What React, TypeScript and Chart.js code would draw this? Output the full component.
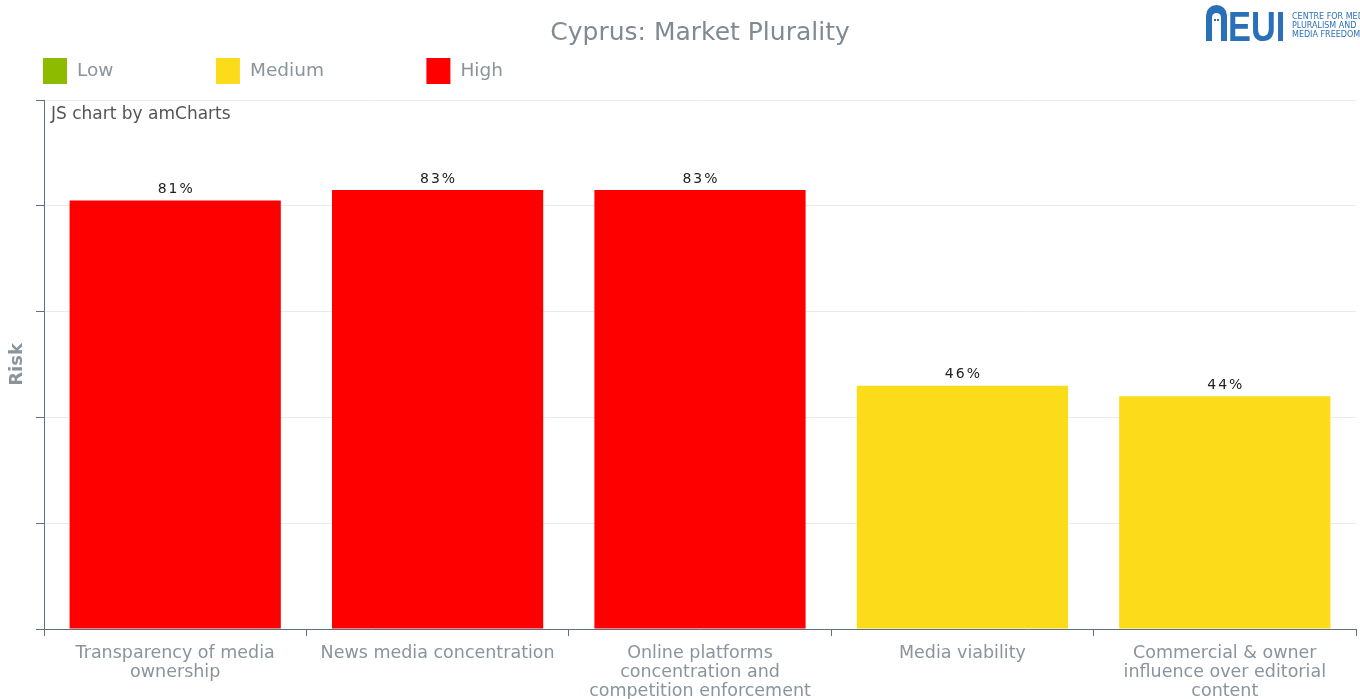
import React, { useEffect, useRef } from 'react';
import { Chart, registerables } from 'chart.js';

Chart.register(...registerables);

const chartTitle = 'Cyprus: Market Plurality';
const categories: string[][] = [
  ['Transparency of media', 'ownership'],
  ['News media concentration'],
  ['Online platforms', 'concentration and', 'competition enforcement'],
  ['Media viability'],
  ['Commercial & owner', 'influence over editorial', 'content'],
];
const riskValues = [81, 83, 83, 46, 44];
const riskLevels = ['Low', 'Medium', 'High'];
const riskColors = ['#8cbb00', '#fcdb1b', '#ff0000'];
const riskUpperBounds = [33, 66, 100];
const yMin = 0;
const yMax = 100;
const yStep = 20;
const axisTitle = 'Risk';
const watermark = 'JS chart by amCharts';
const logoText = 'EUI';
const logoSubText = ['CENTRE FOR MEDIA', 'PLURALISM AND', 'MEDIA FREEDOM'];

const FONT = '"DejaVu Sans", Verdana, sans-serif';
const AXIS_COLOR = '#5c7080';
const TEXT_GRAY = '#8a949c';

const colorFor = (v: number) => {
  const i = riskUpperBounds.findIndex((b) => v <= b);
  return riskColors[i < 0 ? riskColors.length - 1 : i];
};

const overlayPlugin = {
  id: 'overlay',
  afterDatasetsDraw(chart: any) {
    const ctx = chart.ctx as CanvasRenderingContext2D;
    const meta = chart.getDatasetMeta(0);
    ctx.save();
    ctx.font = `14px ${FONT}`;
    (ctx as any).letterSpacing = '2px';
    ctx.fillStyle = '#222';
    ctx.textAlign = 'center';
    ctx.textBaseline = 'bottom';
    meta.data.forEach((bar: any, i: number) => {
      ctx.fillText(`${riskValues[i]}%`, bar.x + 1, bar.y - 4);
    });
    ctx.restore();
  },
  afterDraw(chart: any) {
    const ctx = chart.ctx as CanvasRenderingContext2D;
    const area = chart.chartArea;
    ctx.save();
    // Title
    ctx.font = `25px ${FONT}`;
    ctx.fillStyle = '#7f8a93';
    ctx.textAlign = 'center';
    ctx.textBaseline = 'middle';
    ctx.fillText(chartTitle, (area.left + area.right) / 2, 33);

    // Legend
    ctx.font = `18.5px ${FONT}`;
    ctx.textAlign = 'left';
    let x = area.left - 1;
    const boxW = 24;
    const boxH = 26;
    const ly = 58;
    riskLevels.forEach((lvl, i) => {
      ctx.fillStyle = riskColors[i];
      ctx.fillRect(x, ly, boxW, boxH);
      ctx.fillStyle = TEXT_GRAY;
      ctx.fillText(lvl, x + boxW + 10, ly + boxH / 2);
      x += boxW + 10 + ctx.measureText(lvl).width + 102.5;
    });

    // Watermark
    ctx.font = `17px ${FONT}`;
    ctx.fillStyle = '#555';
    ctx.fillText(watermark, area.left + 7, area.top + 15);

    // Logo
    const blue = '#2a70b8';
    ctx.fillStyle = blue;
    const ax = 1206, ay = 5, aw = 21, ah = 36;
    ctx.beginPath();
    ctx.moveTo(ax, ay + ah);
    ctx.lineTo(ax, ay + aw / 2);
    ctx.arc(ax + aw / 2, ay + aw / 2, aw / 2, Math.PI, 0);
    ctx.lineTo(ax + aw, ay + ah);
    ctx.closePath();
    ctx.fill();
    ctx.fillStyle = '#fff';
    const ix = ax + 6, iw = 9, iy = ay + 8;
    ctx.beginPath();
    ctx.moveTo(ix, ay + ah);
    ctx.lineTo(ix, iy + iw / 2);
    ctx.arc(ix + iw / 2, iy + iw / 2, iw / 2, Math.PI, 0);
    ctx.lineTo(ix + iw, ay + ah);
    ctx.closePath();
    ctx.fill();
    ctx.fillStyle = blue;
    ctx.fillRect(ix + 2, iy + 6, 2, 2);
    ctx.fillRect(ix + 5, iy + 6, 2, 2);

    ctx.save();
    ctx.translate(1228, 41);
    ctx.scale(0.8, 1);
    ctx.font = `bold 43px "Liberation Sans", Arial, sans-serif`;
    ctx.textBaseline = 'alphabetic';
    ctx.fillText(logoText, 0, 0);
    ctx.restore();

    ctx.font = `8px ${FONT}`;
    ctx.textBaseline = 'middle';
    logoSubText.forEach((t, i) => ctx.fillText(t, 1292, 17 + i * 9));
    ctx.restore();
  },
};

export default function App() {
  const ref = useRef<HTMLCanvasElement>(null);
  useEffect(() => {
    if (!ref.current) return;
    const chart = new Chart(ref.current, {
      type: 'bar',
      data: {
        labels: categories,
        datasets: [
          {
            data: riskValues,
            backgroundColor: riskValues.map(colorFor),
            categoryPercentage: 0.805,
            barPercentage: 1,
          },
        ],
      },
      options: {
        responsive: false,
        animation: false,
        layout: { padding: { top: 100, right: 4, left: 0, bottom: 0 } },
        plugins: {
          legend: { display: false },
          title: { display: false },
          tooltip: { enabled: false },
        },
        scales: {
          x: {
            offset: true,
            grid: {
              offset: true,
              drawOnChartArea: false,
              drawTicks: true,
              tickLength: 7,
              tickColor: AXIS_COLOR,
            },
            border: { color: AXIS_COLOR, width: 1 },
            ticks: {
              color: TEXT_GRAY,
              font: { family: FONT, size: 17.5, lineHeight: 1.09 },
              padding: 8,
              maxRotation: 0,
              minRotation: 0,
              autoSkip: false,
            },
            afterFit: (s: any) => {
              s.height = 70;
            },
          },
          y: {
            min: yMin,
            max: yMax,
            z: 1,
            ticks: { display: false, stepSize: yStep },
            grid: {
              color: 'rgba(215,215,215,0.5)',
              tickColor: AXIS_COLOR,
              tickLength: 8,
              drawTicks: true,
            },
            border: { color: AXIS_COLOR, width: 1 },
            title: {
              display: true,
              text: axisTitle,
              color: TEXT_GRAY,
              font: { family: FONT, size: 18, weight: 'bold' },
              padding: { top: 7, bottom: 0 },
            },
            afterFit: (s: any) => {
              s.width = 44;
            },
          },
        },
      },
      plugins: [overlayPlugin],
    } as any);
    return () => chart.destroy();
  }, []);
  return (
    <div style={{ position: 'absolute', left: 0, top: 0, width: 1360, height: 699, background: '#fff' }}>
      <canvas ref={ref} width={1360} height={699} style={{ display: 'block' }} />
    </div>
  );
}
